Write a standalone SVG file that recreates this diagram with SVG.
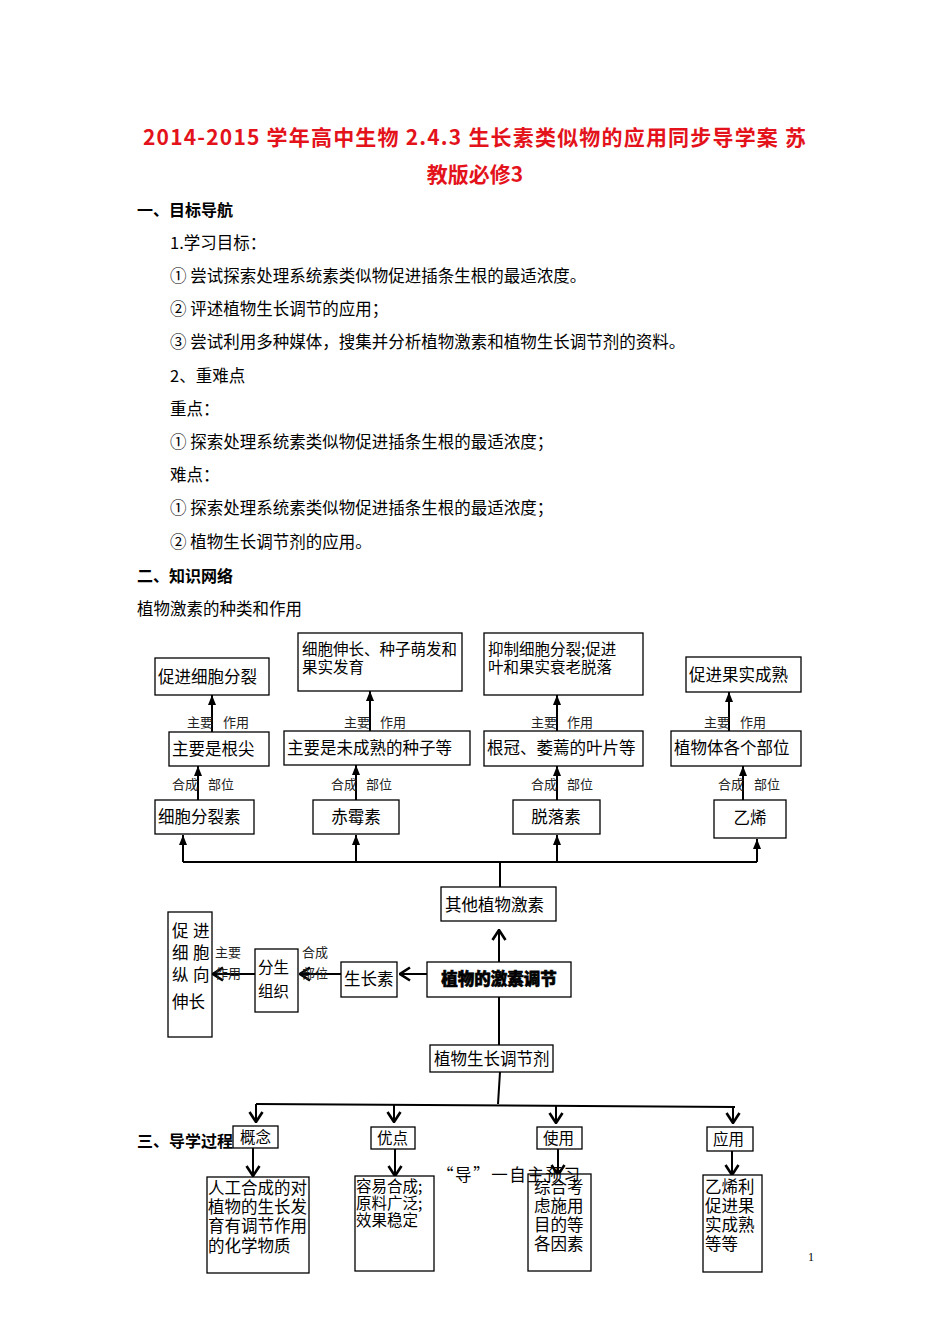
<svg xmlns="http://www.w3.org/2000/svg" width="950" height="1344" viewBox="0 0 950 1344">
<style>
text { font-family: "Noto Sans CJK SC", "Noto Sans", sans-serif; fill: #000; }
.ttl { font-size: 21px; font-weight: bold; fill: #e3121b; }
.h { font-size: 16px; font-weight: bold; }
.p { font-size: 16.5px; }
.n { font-size: 16.5px; }
.s { font-size: 15.5px; }
.m { font-size: 15.5px; }
.l { font-size: 13px; fill: #222; }
.box { fill: #fff; stroke: #000; stroke-width: 1.3; }
.ar { stroke: #000; stroke-width: 2; fill: none; }
.key { font-size: 16.5px; font-weight: 900; stroke: #000; stroke-width: 0.6; }
</style>
<defs>
<marker id="tri" viewBox="0 0 10 8" refX="10" refY="4" markerWidth="10" markerHeight="8" markerUnits="userSpaceOnUse" orient="auto">
<path d="M0,0 L10,4 L0,8 z" fill="#000"/>
</marker>
<marker id="vee" viewBox="0 0 12 16" refX="11" refY="8" markerWidth="12" markerHeight="16" markerUnits="userSpaceOnUse" orient="auto">
<path d="M1,1.5 L11,8 L1,14.5" fill="none" stroke="#000" stroke-width="2.6"/>
</marker>
</defs>
<rect width="950" height="1344" fill="#fff"/>

<g id="header">
<text class="ttl" x="143" y="145" textLength="663" lengthAdjust="spacing">2014-2015 学年高中生物 2.4.3 生长素类似物的应用同步导学案 苏</text>
<text class="ttl" x="475" y="182" text-anchor="middle">教版必修3</text>
<text class="h" x="137" y="216">一、目标导航</text>
<text class="p" x="170" y="249">1.学习目标：</text>
<text class="p" x="170" y="282">① 尝试探索处理系统素类似物促进插条生根的最适浓度。</text>
<text class="p" x="170" y="315">② 评述植物生长调节的应用；</text>
<text class="p" x="170" y="348">③ 尝试利用多种媒体，搜集并分析植物激素和植物生长调节剂的资料。</text>
<text class="p" x="170" y="382">2、重难点</text>
<text class="p" x="170" y="415">重点：</text>
<text class="p" x="170" y="448">① 探索处理系统素类似物促进插条生根的最适浓度；</text>
<text class="p" x="170" y="481">难点：</text>
<text class="p" x="170" y="514">① 探索处理系统素类似物促进插条生根的最适浓度；</text>
<text class="p" x="170" y="548">② 植物生长调节剂的应用。</text>
<text class="h" x="137" y="582">二、知识网络</text>
<text class="p" x="137" y="615">植物激素的种类和作用</text>
<text class="h" x="137" y="1147">三、导学过程</text>
</g>

<g id="connectors">
<line class="ar" x1="212" y1="732" x2="212" y2="695" marker-end="url(#tri)"/>
<line class="ar" x1="198" y1="800" x2="198" y2="766" marker-end="url(#tri)"/>
<line class="ar" x1="370" y1="731" x2="370" y2="691" marker-end="url(#tri)"/>
<line class="ar" x1="356" y1="800" x2="356" y2="765" marker-end="url(#tri)"/>
<line class="ar" x1="557" y1="731" x2="557" y2="695" marker-end="url(#tri)"/>
<line class="ar" x1="557" y1="800" x2="557" y2="766" marker-end="url(#tri)"/>
<line class="ar" x1="729" y1="731" x2="729" y2="692" marker-end="url(#tri)"/>
<line class="ar" x1="743" y1="800" x2="743" y2="766" marker-end="url(#tri)"/>
<path class="ar" d="M183,862 H757"/>
<line class="ar" x1="183" y1="862" x2="183" y2="835" marker-end="url(#tri)"/>
<line class="ar" x1="356" y1="862" x2="356" y2="835" marker-end="url(#tri)"/>
<line class="ar" x1="557" y1="862" x2="557" y2="835" marker-end="url(#tri)"/>
<line class="ar" x1="757" y1="862" x2="757" y2="839" marker-end="url(#tri)"/>
<line class="ar" x1="500" y1="862" x2="500" y2="887"/>
<line class="ar" x1="499" y1="962" x2="499" y2="930" marker-end="url(#vee)"/>
<line class="ar" x1="499" y1="997" x2="499" y2="1045"/>
<line class="ar" x1="427" y1="974" x2="400" y2="974" marker-end="url(#vee)"/>
<line class="ar" x1="341" y1="974" x2="300" y2="974" marker-end="url(#vee)"/>
<line class="ar" x1="255" y1="974" x2="213" y2="974" marker-end="url(#vee)"/>
<line class="ar" x1="500" y1="1072" x2="498" y2="1104"/>
<line class="ar" x1="256" y1="1104" x2="735" y2="1107"/>
<line class="ar" x1="256" y1="1104" x2="256" y2="1122" marker-end="url(#vee)"/>
<line class="ar" x1="394" y1="1105" x2="394" y2="1122" marker-end="url(#vee)"/>
<line class="ar" x1="556" y1="1106" x2="556" y2="1123" marker-end="url(#vee)"/>
<line class="ar" x1="733" y1="1107" x2="733" y2="1123" marker-end="url(#vee)"/>
<line class="ar" x1="253" y1="1148" x2="253" y2="1176" marker-end="url(#vee)"/>
<line class="ar" x1="395" y1="1149" x2="395" y2="1176" marker-end="url(#vee)"/>
<line class="ar" x1="558" y1="1149" x2="558" y2="1175" marker-end="url(#vee)"/>
<line class="ar" x1="732" y1="1151" x2="732" y2="1175" marker-end="url(#vee)"/>
</g>

<g id="edge-labels">
<text class="l" x="187" y="727">主要</text><text class="l" x="223" y="727">作用</text>
<text class="l" x="172" y="789">合成</text><text class="l" x="208" y="789">部位</text>
<text class="l" x="344" y="727">主要</text><text class="l" x="380" y="727">作用</text>
<text class="l" x="331" y="789">合成</text><text class="l" x="366" y="789">部位</text>
<text class="l" x="531" y="727">主要</text><text class="l" x="567" y="727">作用</text>
<text class="l" x="531" y="789">合成</text><text class="l" x="567" y="789">部位</text>
<text class="l" x="704" y="727">主要</text><text class="l" x="740" y="727">作用</text>
<text class="l" x="718" y="789">合成</text><text class="l" x="754" y="789">部位</text>
<text class="l" x="215" y="957">主要</text><text class="l" x="215" y="978">作用</text>
<text class="l" x="302" y="957">合成</text><text class="l" x="302" y="978">部位</text>
</g>

<g id="n1"><rect class="box" x="155" y="658" width="114" height="37"/><text class="n" x="158" y="683">促进细胞分裂</text></g>
<g id="n2"><rect class="box" x="298" y="633" width="164" height="58"/><text class="s" x="302" y="655">细胞伸长、种子萌发和</text><text class="s" x="302" y="673">果实发育</text></g>
<g id="n3"><rect class="box" x="484" y="633" width="159" height="62"/><text class="s" x="488" y="655">抑制细胞分裂;促进</text><text class="s" x="488" y="673">叶和果实衰老脱落</text></g>
<g id="n4"><rect class="box" x="686" y="657" width="115" height="35"/><text class="n" x="689" y="681">促进果实成熟</text></g>

<g id="n5"><rect class="box" x="169" y="732" width="100" height="34"/><text class="n" x="172" y="755">主要是根尖</text></g>
<g id="n6"><rect class="box" x="284" y="731" width="186" height="34"/><text class="n" x="287" y="754">主要是未成熟的种子等</text></g>
<g id="n7"><rect class="box" x="484" y="731" width="159" height="35"/><text class="n" x="487" y="754">根冠、萎蔫的叶片等</text></g>
<g id="n8"><rect class="box" x="671" y="731" width="130" height="35"/><text class="n" x="674" y="754">植物体各个部位</text></g>

<g id="n9"><rect class="box" x="155" y="800" width="99" height="34"/><text class="n" x="158" y="823">细胞分裂素</text></g>
<g id="n10"><rect class="box" x="313" y="800" width="86" height="34"/><text class="n" x="356" y="823" text-anchor="middle">赤霉素</text></g>
<g id="n11"><rect class="box" x="513" y="800" width="87" height="34"/><text class="n" x="556" y="823" text-anchor="middle">脱落素</text></g>
<g id="n12"><rect class="box" x="714" y="800" width="72" height="38"/><text class="n" x="750" y="824" text-anchor="middle">乙烯</text></g>

<g id="n13"><rect class="box" x="441" y="887" width="115" height="34"/><text class="n" x="445" y="911">其他植物激素</text></g>
<g id="n14"><rect class="box" x="427" y="962" width="144" height="35"/><text class="key" x="499" y="985" text-anchor="middle">植物的激素调节</text></g>
<g id="n15"><rect class="box" x="341" y="962" width="56" height="35"/><text class="n" x="344" y="985">生长素</text></g>
<g id="n16"><rect class="box" x="255" y="949" width="43" height="63"/><text class="s" x="258" y="973">分生</text><text class="s" x="258" y="997">组织</text></g>
<g id="n17"><rect class="box" x="168" y="912" width="44" height="125"/>
<text class="n" x="172" y="937">促</text><text class="n" x="193" y="937">进</text>
<text class="n" x="172" y="959">细</text><text class="n" x="193" y="959">胞</text>
<text class="n" x="172" y="981">纵</text><text class="n" x="193" y="981">向</text>
<text class="n" x="172" y="1008">伸长</text></g>
<g id="n18"><rect class="box" x="430" y="1045" width="123" height="27"/><text class="n" x="434" y="1065">植物生长调节剂</text></g>

<g id="n19"><rect class="box" x="233" y="1126" width="45" height="22"/><text class="s" x="240" y="1143">概念</text></g>
<g id="n20"><rect class="box" x="371" y="1127" width="44" height="22"/><text class="s" x="377" y="1144">优点</text></g>
<g id="n21"><rect class="box" x="537" y="1127" width="45" height="22"/><text class="s" x="543" y="1144">使用</text></g>
<g id="n22"><rect class="box" x="707" y="1127" width="46" height="24"/><text class="s" x="713" y="1145">应用</text></g>

<g id="n23"><rect class="box" x="207" y="1177" width="102" height="96"/>
<text class="n" x="208" y="1194">人工合成的对</text><text class="n" x="208" y="1213">植物的生长发</text><text class="n" x="208" y="1232">育有调节作用</text><text class="n" x="208" y="1252">的化学物质</text></g>
<g id="n24"><rect class="box" x="355" y="1176" width="79" height="95"/>
<text class="m" x="356" y="1192">容易合成;</text><text class="m" x="356" y="1209">原料广泛;</text><text class="m" x="356" y="1226">效果稳定</text></g>
<g id="n25"><rect class="box" x="528" y="1174" width="63" height="97"/>
<text class="n" x="534" y="1193">综合考</text><text class="n" x="534" y="1212">虑施用</text><text class="n" x="534" y="1231">目的等</text><text class="n" x="534" y="1250">各因素</text></g>
<g id="n26"><rect class="box" x="703" y="1175" width="59" height="97"/>
<text class="n" x="705" y="1193">乙烯利</text><text class="n" x="705" y="1212">促进果</text><text class="n" x="705" y="1231">实成熟</text><text class="n" x="705" y="1250">等等</text></g>

<g id="footer">
<text class="p" x="437" y="1181" textLength="143" lengthAdjust="spacing">“导”一自主预习</text>
<text x="808" y="1261" style="font-family:'Liberation Serif',serif;font-size:12px">1</text>
</g>
</svg>
